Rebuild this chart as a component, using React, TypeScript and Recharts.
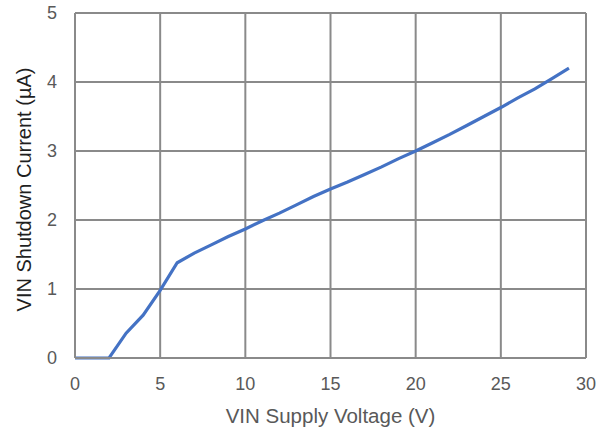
import { CartesianGrid, Line, LineChart, XAxis, YAxis } from "recharts";

const voltages = [0, 1, 2, 3, 4, 5, 6, 7, 8, 9, 10, 11, 12, 13, 14, 15, 16, 17, 18, 19, 20, 21, 22, 23, 24, 25, 26, 27, 28, 29];
const currents = [0, 0, 0, 0.36, 0.62, 0.98, 1.38, 1.52, 1.64, 1.76, 1.87, 1.99, 2.1, 2.22, 2.34, 2.45, 2.55, 2.66, 2.77, 2.89, 3.0, 3.12, 3.24, 3.37, 3.5, 3.63, 3.77, 3.9, 4.05, 4.2];
const xTicks = [0, 5, 10, 15, 20, 25, 30];
const yTicks = [0, 1, 2, 3, 4, 5];

const data = voltages.map((v, i) => ({ v, i: currents[i] }));

const gridColor = "#8a8a8a";
const textColor = "#595959";

export default function App() {
  return (
    <div style={{ position: "absolute", left: 0, top: 0, fontFamily: "'Liberation Sans', Arial, sans-serif" }}>
      <LineChart width={608} height={427} data={data} margin={{ top: 13, right: 22, left: 0, bottom: 0 }}>
        <CartesianGrid stroke={gridColor} strokeWidth={2} />
        <XAxis
          dataKey="v"
          type="number"
          domain={[0, 30]}
          ticks={xTicks}
          height={69}
          tickSize={0}
          tickMargin={19}
          tick={{ fill: textColor, fontSize: 18 }}
          axisLine={{ stroke: gridColor, strokeWidth: 2 }}
          label={{ value: "VIN Supply Voltage (V)", position: "insideBottom", offset: 4, fontSize: 20.5, fill: textColor }}
        />
        <YAxis
          type="number"
          domain={[0, 5]}
          ticks={yTicks}
          width={75}
          tickSize={0}
          tickMargin={18}
          tick={{ fill: textColor, fontSize: 18 }}
          axisLine={{ stroke: gridColor, strokeWidth: 2 }}
          label={{ value: "VIN Shutdown Current (µA)", angle: -90, position: "center", dx: -14, dy: 4, fontSize: 20, fill: "#1f1f1f" }}
        />
        <Line dataKey="i" stroke="#4472C4" strokeWidth={3.2} dot={false} isAnimationActive={false} type="linear" />
      </LineChart>
    </div>
  );
}
